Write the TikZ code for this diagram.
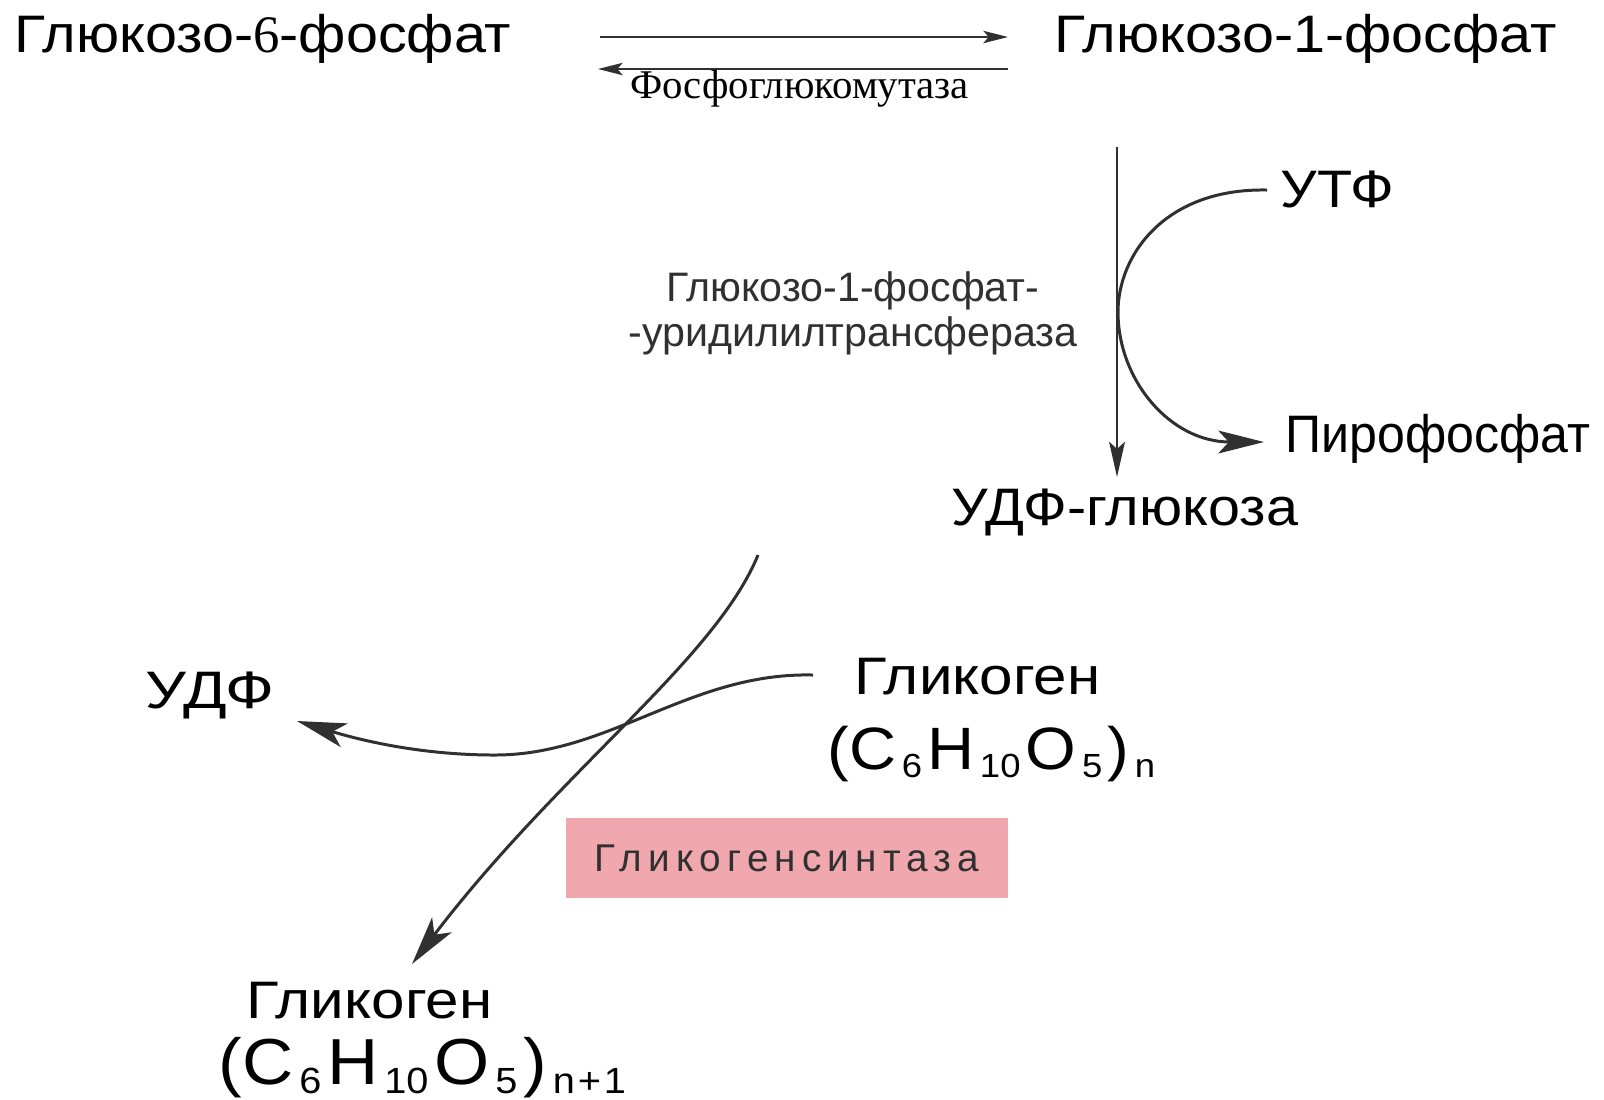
\documentclass[tikz,border=0pt]{standalone}
\usepackage{fontspec}
\setmainfont{Liberation Sans}
\newfontfamily\timesfont{Liberation Serif}
\newfontfamily\metabfont[FakeStretch=1.09]{Liberation Sans}
\newfontfamily\ppifont[FakeStretch=0.95]{Liberation Sans}
\newfontfamily\glycfont[FakeStretch=1.14]{Liberation Sans}
\newfontfamily\udpfont[FakeStretch=1.22]{Liberation Sans}
\newfontfamily\spacedfont[LetterSpace=16]{Liberation Sans}
\usetikzlibrary{arrows.meta}

\definecolor{inkgray}{HTML}{303030}
\definecolor{synthpink}{HTML}{F0A8AE}

% glycogen formula: #1 size of the letters, #2 the outer subscript
\newcommand{\low}[1]{\kern0.09em\raisebox{-0.15em}{\fontsize{0.56em}{0.6em}\selectfont #1}\kern0.09em}
\newcommand{\glyc}[2]{{\fontsize{#1}{#1}\selectfont(C\low{6}H\low{10}O\low{5})\low{#2}}}

\begin{document}
\begin{tikzpicture}[x=0.01cm,y=-0.01cm,
  lbl/.style={inner sep=0pt,anchor=base west,font=\metabfont\fontsize{15}{18}\selectfont},
  rxn/.style={draw=inkgray,line width=0.85pt},
  bigtip/.style={-{Stealth[length=14pt,width=7pt,inset=3.5pt]}}]
\useasboundingbox (0,0) rectangle (1604,1099);

% glucose-6-phosphate <-> glucose-1-phosphate
\node[lbl] (g6p) at (14,52) {Глюкозо-{\timesfont 6}-фосфат};
\node[lbl] (g1p) at (1054,52) {Глюкозо-1-фосфат};
\coordinate (fwdA) at (600,37);
\coordinate (fwdB) at (1008,37);
\coordinate (bwdA) at (1008,69);
\coordinate (bwdB) at (598,69);
\draw[rxn,line width=0.65pt,-{Stealth[length=7pt,width=3.5pt,inset=1.5pt]}] (fwdA) -- (fwdB);
\draw[rxn,line width=0.65pt,-{Stealth[length=7pt,width=3.5pt,inset=1.5pt]}] (bwdA) -- (bwdB)
  node[midway,below=-3.3pt,xshift=-1pt,font=\timesfont\fontsize{11.6}{14}\selectfont] (pgm) {Фосфоглюкомутаза};

% UTP -> pyrophosphate, UDP-glucose
\coordinate (vtop) at (1117,147);
\coordinate (vbot) at (1117,477);
\draw[rxn,line width=0.65pt,-{Stealth[length=10pt,width=4.5pt,inset=2pt]}] (vtop) -- (vbot);
\node[lbl] (utp) at (1280,207) {УТФ};
\node[lbl,font=\ppifont\fontsize{15}{18}\selectfont] (ppi) at (1285,452) {Пирофосфат};
\node[lbl] (udpg) at (951,525) {УДФ-глюкоза};
\node[align=center,inner sep=0pt,text=inkgray,font=\fontsize{11.7}{12.8}\selectfont] (ugt) at (853,313)
  {Глюкозо-1-фосфат-\\-уридилилтрансфераза};
\coordinate (utpIn) at (1267,190);
\coordinate (ppiOut) at (1264,442);
\draw[rxn,-{Stealth[length=13pt,width=6.5pt,inset=3pt]}] (utpIn)
  .. controls (1165,188) and (1118,255) .. (1118,312)
  .. controls (1118,380) and (1170,442) .. (ppiOut);

% glycogen synthase step
\node[lbl,font=\udpfont\fontsize{15}{18}\selectfont] (udp) at (145,708) {УДФ};
\node[lbl,font=\glycfont\fontsize{15}{18}\selectfont] (glyn) at (854,694) {Гликоген};
\node[lbl] (glynf) at (827,769) {\glyc{17}{n}};
\node[lbl,font=\glycfont\fontsize{15}{18}\selectfont] (glym) at (246,1018) {Гликоген};
\node[lbl] (glymf) at (218,1084) {\glyc{18.5}{n\kern0.08em+\kern0.08em1}};
\node[fill=synthpink,minimum width=4.42cm,minimum height=0.8cm,inner sep=0pt,
  text=inkgray,font=\spacedfont\fontsize{11}{13}\selectfont] (gs) at (787,858) {Гликогенсинтаза};
\coordinate (udpgIn) at (758,555);
\coordinate (glymOut) at (412,964);
\coordinate (glynIn) at (813,675);
\coordinate (udpOut) at (297,721);
\draw[rxn,bigtip] (udpgIn) .. controls (715,660) and (560,770) .. (glymOut);
\draw[rxn,bigtip] (glynIn) .. controls (690,672) and (610,755) .. (495,755)
  .. controls (420,755) and (360,740) .. (udpOut);
\end{tikzpicture}
\end{document}
